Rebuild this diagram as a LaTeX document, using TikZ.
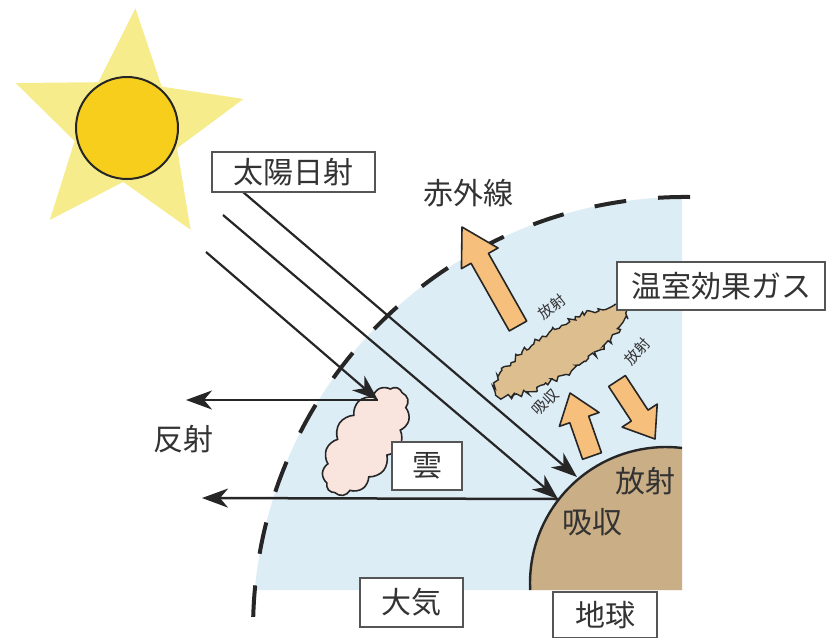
\documentclass[tikz,border=0pt]{standalone}
\usepackage{fontspec}
\newfontfamily\jp{Noto Sans CJK JP}
\usetikzlibrary{shapes.symbols, arrows.meta, calc, decorations.pathmorphing}

\definecolor{staryellow}{HTML}{F6EC8C}
\definecolor{sungold}{HTML}{F8CE1C}
\definecolor{skyblue}{HTML}{DDEDF6}
\definecolor{earthtan}{HTML}{C9AE86}
\definecolor{warmorange}{HTML}{F6C07C}
\definecolor{gastan}{HTML}{DDBE8E}
\definecolor{cloudpink}{HTML}{FAE4DE}
\definecolor{ink}{HTML}{262626}
\definecolor{boxline}{HTML}{555555}
\definecolor{labelgray}{HTML}{333333}

\newcommand{\bigjp}{\jp\fontsize{30}{30}\selectfont}
\newcommand{\smalljp}{\jp\fontsize{15}{15}\selectfont}

% block arrow: #1 tail, #2 tip, #3 head length
\newcommand{\fatarrow}[3]{%
  \coordinate (fb) at ($(#2)!#3!(#1)$);
  \draw[orangearrow] ($(#1)!10pt!90:(#2)$) -- ($(fb)!10pt!-90:(#1)$)
    -- ($(fb)!21pt!-90:(#1)$) -- (#2) -- ($(fb)!21pt!90:(#1)$)
    -- ($(fb)!10pt!90:(#1)$) -- ($(#1)!10pt!-90:(#2)$) -- cycle;
}

\tikzset{
  labelbox/.style={draw=boxline, line width=1.8pt, fill=white, text=labelgray,
    font=\bigjp, inner sep=0pt},
  bigtext/.style={text=labelgray, font=\bigjp, inner sep=0pt},
  smalltext/.style={text=labelgray, font=\smalljp, inner sep=0pt},
  ray/.style={draw=ink, line width=2.2pt,
    -{Stealth[length=26pt, width=19pt, inset=8pt]}},
  orangearrow/.style={fill=warmorange, draw=ink, line width=1.6pt, line join=round},
  atmosline/.style={draw=ink, line width=4pt, dash pattern=on 32pt off 32pt},
}

\begin{document}
\begin{tikzpicture}[x=1pt, y=-1pt]
\clip (0,0) rectangle (826,637);
\fill[white] (0,0) rectangle (826,637);

% the sun
\coordinate (sunc) at (127,128);
\fill[staryellow] ($(sunc)+(86:120pt)$) -- ($(sunc)+(122:54pt)$)
  -- ($(sunc)+(158:120pt)$) -- ($(sunc)+(194:54pt)$)
  -- ($(sunc)+(230:120pt)$) -- ($(sunc)+(266:54pt)$)
  -- ($(sunc)+(302:120pt)$) -- ($(sunc)+(338:54pt)$)
  -- ($(sunc)+(14:120pt)$) -- ($(sunc)+(50:54pt)$) -- cycle;
\draw[fill=sungold, draw=ink, line width=2pt] (sunc) circle[radius=51pt];

% atmosphere
\fill[skyblue] (254.8,590) arc[start angle=174.82, end angle=90.4, radius=432pt]
  -- (682,590) -- cycle;

% earth
\fill[earthtan] (530.2,590) arc[start angle=182.95, end angle=83.24, radius=136pt]
  -- (682,590) -- cycle;
\draw[ink, line width=2.4pt] (530.2,590) arc[start angle=182.95, end angle=83.24, radius=136pt];

% top of the atmosphere
\draw[atmosline] (690,197) arc[start angle=89.34, end angle=178.4, radius=432pt];

% cloud
\node[cloud, cloud puffs=13, cloud puff arc=110, cloud ignores aspect,
  minimum width=124pt, minimum height=64pt, rotate=56,
  fill=cloudpink, draw=ink, line width=1.6pt] (cloud) at (366,441) {};

% greenhouse gas
\pgfmathsetseed{11}
\begin{scope}[shift={(561,351)}, rotate=32]
  \draw[fill=gastan, draw=ink, line width=1.4pt, line join=miter, decorate,
    decoration={random steps, segment length=3pt, amplitude=3pt}]
    (0,0) ellipse[x radius=77pt, y radius=22pt];
\end{scope}

% solar rays
\coordinate (r1s) at (243,192); \coordinate (r1e) at (577,477);
\coordinate (r2s) at (223,215); \coordinate (r2e) at (558,499);
\coordinate (r3s) at (206,252); \coordinate (r3e) at (378,400);
\draw[ray] (r1s) -- (r1e);
\draw[ray] (r2s) -- (r2e);
\draw[ray] (r3s) -- (r3e);

% reflected rays
\coordinate (refl1) at (186,400);
\coordinate (refl2) at (202,498);
\draw[ray, line width=2.5pt] (r3e) -- (refl1);
\draw[ray, line width=2.5pt] (r2e) -- (refl2);

% infrared arrows
\coordinate (a1t) at (518,326); \coordinate (a1h) at (462,227);
\coordinate (a2t) at (592,456); \coordinate (a2h) at (570,393);
\coordinate (a3t) at (617,381); \coordinate (a3h) at (655,439);
\fatarrow{a1t}{a1h}{36pt}
\fatarrow{a2t}{a2h}{28pt}
\fatarrow{a3t}{a3h}{28pt}

% labels
\node[labelbox, minimum width=163pt, minimum height=40pt] (sunbox) at (293.5,172) {太陽日射};
\node[labelbox, minimum width=208pt, minimum height=48pt] (gasbox) at (721,286) {温室効果ガス};
\node[labelbox, minimum width=70pt, minimum height=48pt] (cloudbox) at (427,466) {雲};
\node[labelbox, minimum width=103pt, minimum height=49pt] (airbox) at (411.5,602.5) {大気};
\node[labelbox, minimum width=104pt, minimum height=46pt] (earthbox) at (605,615) {地球};

\node[bigtext] (ir) at (468,193) {赤外線};
\node[bigtext] (reflect) at (183,439) {反射};
\node[bigtext] (emit) at (645,481) {放射};
\node[bigtext] (absorb) at (592,522) {吸収};

\node[smalltext, rotate=38] (emitup) at (552,307) {放射};
\node[smalltext, rotate=48] (emitdown) at (637,352) {放射};
\node[smalltext, rotate=45] (absorbgas) at (545,402) {吸収};
\end{tikzpicture}
\end{document}
